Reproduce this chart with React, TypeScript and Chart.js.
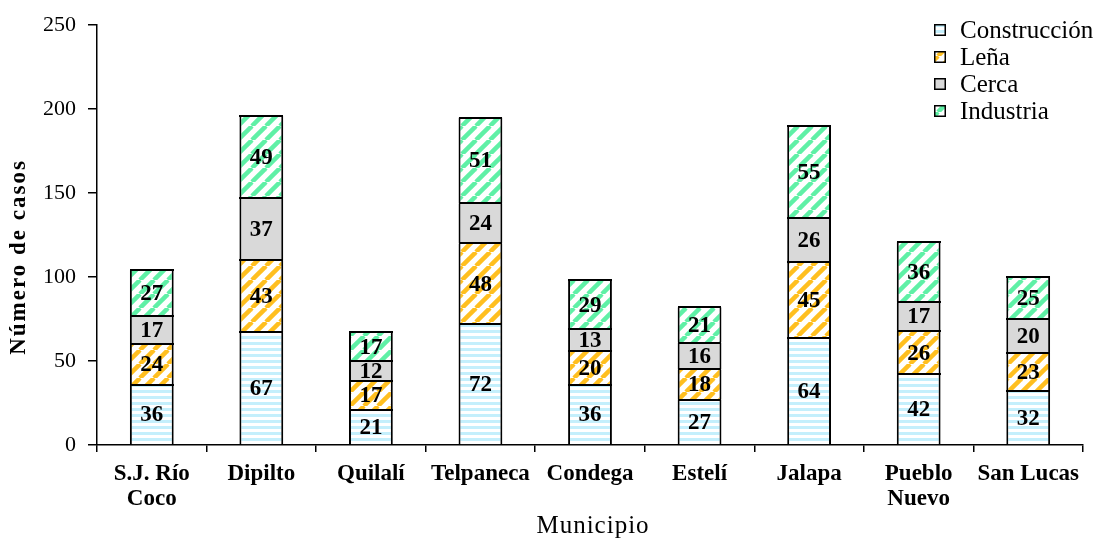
import React, { useEffect, useRef } from "react";
import { Chart, registerables } from "chart.js";

Chart.register(...registerables);

const categories: (string | string[])[] = [
  ["S.J. Río", "Coco"], "Dipilto", "Quilalí", "Telpaneca", "Condega", "Estelí", "Jalapa", ["Pueblo", "Nuevo"], "San Lucas",
];
const construccion = [36, 67, 21, 72, 36, 27, 64, 42, 32];
const lena = [24, 43, 17, 48, 20, 18, 45, 26, 23];
const cerca = [17, 37, 12, 24, 13, 16, 26, 17, 20];
const industria = [27, 49, 17, 51, 29, 21, 55, 36, 25];
const seriesNames = ["Construcción", "Leña", "Cerca", "Industria"];
const yTicks = [0, 50, 100, 150, 200, 250];
const xTitle = "Municipio";
const yTitle = "Número de casos";

const FONT = "'Liberation Serif', 'Times New Roman', serif";

function hPattern(color: string): CanvasPattern | string {
  const c = document.createElement("canvas");
  c.width = 8; c.height = 6;
  const x = c.getContext("2d")!;
  x.fillStyle = "#ffffff"; x.fillRect(0, 0, 8, 6);
  x.fillStyle = color; x.fillRect(0, 0, 8, 3);
  return x.createPattern(c, "repeat") || color;
}
function dPattern(color: string): CanvasPattern | string {
  const s = 14;
  const c = document.createElement("canvas");
  c.width = s; c.height = s;
  const x = c.getContext("2d")!;
  x.fillStyle = "#ffffff"; x.fillRect(0, 0, s, s);
  x.strokeStyle = color; x.lineWidth = 4.5;
  for (const o of [-s, 0, s]) {
    x.beginPath(); x.moveTo(o, s); x.lineTo(o + s, 0); x.stroke();
  }
  return x.createPattern(c, "repeat") || color;
}

export default function App() {
  const ref = useRef<HTMLCanvasElement>(null);
  useEffect(() => {
    const fills = [hPattern("#c4effc"), dPattern("#ffbf1f"), "#d9d9d9", dPattern("#5ff0a6")];
    const data = [construccion, lena, cerca, industria];

    const labelPlugin = {
      id: "segLabels",
      afterDatasetsDraw(chart: any) {
        const ctx = chart.ctx;
        ctx.save();
        // crisp segment boundaries
        ctx.fillStyle = "#000";
        chart.data.datasets.forEach((ds: any, i: number) => {
          const meta = chart.getDatasetMeta(i);
          meta.data.forEach((bar: any) => {
            const x0 = Math.round(bar.x - bar.width / 2);
            const x1 = Math.round(bar.x + bar.width / 2);
            const yy = Math.round(bar.y);
            ctx.fillRect(x0, yy - 1, x1 - x0, 2);
          });
        });
        ctx.letterSpacing = "0px";
        ctx.font = `bold 23px ${FONT}`;
        ctx.textAlign = "center";
        ctx.textBaseline = "middle";
        chart.data.datasets.forEach((ds: any, i: number) => {
          const meta = chart.getDatasetMeta(i);
          meta.data.forEach((bar: any, j: number) => {
            const yc = (bar.y + bar.base) / 2;
            ctx.fillText(String(ds.data[j]), bar.x, yc + 1);
          });
        });
        // legend
        const lx = 934;
        const ys = [30, 57, 84, 111];
        ctx.font = `25px ${FONT}`;
        ctx.textAlign = "left";
        seriesNames.forEach((n, i) => {
          ctx.fillStyle = fills[i];
          ctx.fillRect(lx, ys[i] - 6, 12, 12);
          ctx.strokeStyle = "#000";
          ctx.lineWidth = 1.5;
          ctx.strokeRect(lx + 0.75, ys[i] - 5.25, 10.5, 10.5);
          ctx.fillStyle = "#000";
          ctx.fillText(n, lx + 26, ys[i] + 1);
        });
        // axis titles
        const ca = chart.chartArea;
        ctx.textAlign = "center";
        ctx.font = `25px ${FONT}`;
        ctx.letterSpacing = "1px";
        ctx.fillText(xTitle, (ca.left + ca.right) / 2 + 3, 526);
        ctx.save();
        ctx.translate(19, 257);
        ctx.rotate(-Math.PI / 2);
        ctx.font = `bold 23px ${FONT}`;
        ctx.letterSpacing = "2px";
        ctx.fillText(yTitle, 0, 0);
        ctx.restore();
        ctx.restore();
      },
    };

    const chart = new Chart(ref.current!, {
      type: "bar",
      data: {
        labels: categories,
        datasets: seriesNames.map((n, i) => ({
          label: n,
          data: data[i],
          backgroundColor: fills[i] as any,
          borderColor: "#000",
          borderWidth: { top: 0, bottom: 0, left: 2, right: 2 } as any,
          borderSkipped: false,
          categoryPercentage: 1,
          barPercentage: 0.4,
        })),
      },
      options: {
        animation: false,
        responsive: true,
        maintainAspectRatio: false,
        layout: { padding: { top: 25, right: 16, left: 0, bottom: 0 } },
        plugins: { legend: { display: false }, tooltip: { enabled: false } },
        scales: {
          x: {
            stacked: true,
            afterFit: (s: any) => { s.height = 94; },
            grid: { display: true, drawOnChartArea: false, offset: true, color: "#000", tickLength: 7, lineWidth: 1.5 },
            border: { display: true, color: "#000", width: 1.5 },
            ticks: { color: "#000", font: { family: FONT, size: 23, weight: "bold", lineHeight: 25 / 23 }, maxRotation: 0, autoSkip: false, padding: 10 },
          },
          y: {
            stacked: true,
            min: 0,
            max: 250,
            afterFit: (s: any) => { s.width = 97; },
            afterBuildTicks: (s: any) => { s.ticks = yTicks.map((v) => ({ value: v })); },
            grid: { display: true, drawOnChartArea: false, color: "#000", tickLength: 9, lineWidth: 1.5 },
            border: { display: true, color: "#000", width: 1.5 },
            ticks: { color: "#000", font: { family: FONT, size: 22 }, padding: 12 },
          },
        },
      },
      plugins: [labelPlugin],
    });
    return () => chart.destroy();
  }, []);
  return (
    <div style={{ position: "fixed", left: 0, top: 0, width: 1099, height: 539, background: "#fff" }}>
      <canvas ref={ref} />
    </div>
  );
}
